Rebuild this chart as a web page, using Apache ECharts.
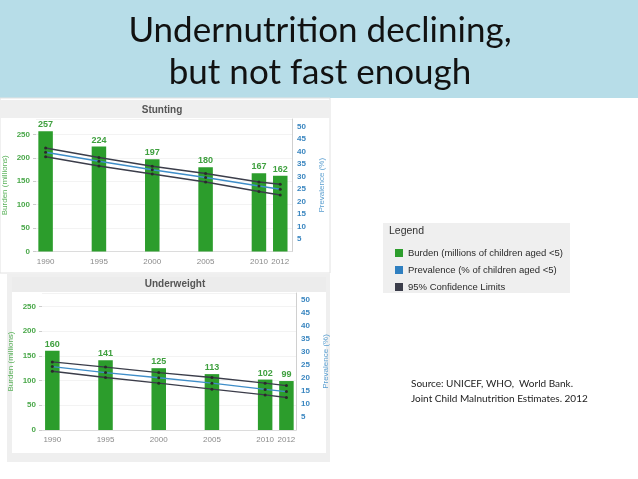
<!DOCTYPE html>
<html>
<head>
<meta charset="utf-8">
<script src="https://cdn.jsdelivr.net/npm/echarts@6/dist/echarts.min.js"></script>
<style>
html, body { margin: 0; padding: 0; background: #fff; }
#main { width: 638px; height: 479px; }
</style>
</head>
<body>
<div id="main"></div>
<script>
// survey years (time axis is linear, so 2010 and 2012 sit close together)
var years = [1990, 1995, 2000, 2005, 2010, 2012];

// stunting: burden in millions, prevalence % with 95% limits
var stuntingBurden = [257, 224, 197, 180, 167, 162];
var stuntingPrev = [39.7, 36.1, 32.7, 29.6, 26.2, 24.9];
var stuntingUpper = [41.4, 37.6, 34.1, 31.2, 27.8, 26.9];
var stuntingLower = [37.9, 34.2, 31.0, 27.8, 24.0, 22.6];

// underweight
var underBurden = [160, 141, 125, 113, 102, 99];
var underPrev = [24.4, 22.1, 20.1, 18.0, 15.6, 14.8];
var underUpper = [26.2, 24.2, 22.1, 20.2, 18.0, 17.1];
var underLower = [22.6, 20.2, 18.0, 15.7, 13.5, 12.5];

var legendNames = ['Burden (millions of children aged <5)', 'Prevalence (% of children aged <5)', '95% Confidence Limits'];
var titleLines = ['Undernutrition declining,', 'but not fast enough'];
var sourceLines = ['Source: UNICEF, WHO,  World Bank.', 'Joint Child Malnutrition Estimates. 2012'];

var GREEN = '#2c9d2c';
var BLUE = '#3f8ec9';
var DARK = '#3b3d4a';

function pairs(vals) {
    var out = [];
    for (var i = 0; i < years.length; i++) {
        out.push([years[i], vals[i]]);
    }
    return out;
}

var chart = echarts.init(document.getElementById('main'));

function xAxisFor(grid, min, max) {
    return {
        type: 'value', gridIndex: grid, min: min, max: max,
        axisLine: { show: true, lineStyle: { color: '#dcdcdc' } },
        axisTick: { show: false },
        splitLine: { show: false },
        axisLabel: {
            customValues: years, color: '#8a8a8a', fontSize: 8, margin: 6,
            formatter: function (v) { return String(v); }
        }
    };
}
function burdenAxis(grid, max) {
    return {
        type: 'value', gridIndex: grid, position: 'left', min: 0, max: max, interval: 50,
        name: 'Burden (millions)', nameLocation: 'middle', nameGap: 27, nameRotate: 90,
        nameTextStyle: { color: '#5bb25b', fontSize: 8 },
        axisLine: { show: false },
        axisTick: { show: true, length: 3, lineStyle: { color: '#cccccc' } },
        splitLine: { show: true, lineStyle: { color: '#f3f3f3' } },
        axisLabel: { color: '#4aa84a', fontSize: 8, margin: 6, showMaxLabel: false, fontWeight: 'bold' }
    };
}
function prevAxis(grid, max) {
    return {
        type: 'value', gridIndex: grid, position: 'right', min: 0, max: max, interval: 5,
        name: 'Prevalence (%)', nameLocation: 'middle', nameGap: 26, nameRotate: 90,
        nameTextStyle: { color: '#5b9fd0', fontSize: 8 },
        axisLine: { show: true, lineStyle: { color: '#d0d0d0' } },
        axisTick: { show: false },
        splitLine: { show: false },
        axisLabel: { color: '#3a86c0', fontSize: 8, margin: 5, showMinLabel: false, showMaxLabel: false, fontWeight: 'bold' }
    };
}
function barSeries(x, y, vals) {
    return {
        name: legendNames[0], type: 'bar', xAxisIndex: x, yAxisIndex: y,
        data: pairs(vals), barWidth: 14.5,
        itemStyle: { color: GREEN },
        label: { show: true, position: 'top', distance: 2, color: '#3fa03f', fontSize: 9, fontWeight: 'bold' }
    };
}
function lineSeries(name, x, y, vals, color) {
    return {
        name: name, type: 'line', xAxisIndex: x, yAxisIndex: y,
        data: pairs(vals), symbol: 'circle', symbolSize: 3, showSymbol: true,
        lineStyle: { color: color, width: 1.3 },
        itemStyle: { color: '#2a2a2a' },
        z: 5
    };
}

var option = {
    animation: false,
    backgroundColor: '#ffffff',
    textStyle: { fontFamily: 'Liberation Sans' },
    grid: [
        { left: 31, right: 346, top: 119, bottom: 227.5 },
        { left: 42, right: 342, top: 293, bottom: 49 }
    ],
    xAxis: [xAxisFor(0, 1989.1, 2013.1), xAxisFor(1, 1989.03, 2012.9)],
    yAxis: [burdenAxis(0, 283), prevAxis(0, 53), burdenAxis(1, 277), prevAxis(1, 52.7)],
    legend: {
        orient: 'vertical', left: 390, top: 243,
        icon: 'rect', itemWidth: 8, itemHeight: 8, itemGap: 7,
        selectedMode: false,
        textStyle: { fontSize: 9.5, color: '#2a2a2a', fontFamily: 'Liberation Sans' },
        data: [
            { name: legendNames[0], itemStyle: { color: GREEN } },
            { name: legendNames[1], itemStyle: { color: '#2f7fc0' } },
            { name: legendNames[2], itemStyle: { color: DARK } }
        ]
    },
    series: [
        barSeries(0, 0, stuntingBurden),
        lineSeries(legendNames[2], 0, 1, stuntingUpper, DARK),
        lineSeries(legendNames[1], 0, 1, stuntingPrev, BLUE),
        lineSeries(legendNames[2], 0, 1, stuntingLower, DARK),
        barSeries(1, 2, underBurden),
        lineSeries(legendNames[2], 1, 3, underUpper, DARK),
        lineSeries(legendNames[1], 1, 3, underPrev, BLUE),
        lineSeries(legendNames[2], 1, 3, underLower, DARK)
    ],
    graphic: [
        // slide title band
        { type: 'rect', z: -10, shape: { x: 0, y: 0, width: 638, height: 98 }, style: { fill: '#b7dde8' } },
        { type: 'text', z: 10, x: 320, y: 31, style: { text: titleLines[0], font: '35px Lato', fill: '#111', textAlign: 'center', textVerticalAlign: 'middle' } },
        { type: 'text', z: 10, x: 320, y: 73, style: { text: titleLines[1], font: '35px Lato', fill: '#111', textAlign: 'center', textVerticalAlign: 'middle' } },
        // stunting panel
        { type: 'rect', z: -10, shape: { x: 0, y: 98, width: 330, height: 175 }, style: { fill: '#fff', stroke: '#e2e2e2', lineWidth: 1 } },
        { type: 'rect', z: -9, shape: { x: 0, y: 100, width: 330, height: 18 }, style: { fill: '#efefef' } },
        { type: 'text', z: 10, x: 162, y: 110, style: { text: 'Stunting', font: 'bold 10px "Liberation Sans"', fill: '#555', textAlign: 'center', textVerticalAlign: 'middle' } },
        // underweight panel
        { type: 'rect', z: -10, shape: { x: 7, y: 274, width: 323, height: 188 }, style: { fill: '#efefef' } },
        { type: 'rect', z: -9, shape: { x: 12, y: 277, width: 314, height: 176 }, style: { fill: '#fff' } },
        { type: 'rect', z: -8, shape: { x: 12, y: 277, width: 314, height: 15 }, style: { fill: '#ececec' } },
        { type: 'text', z: 10, x: 175, y: 284, style: { text: 'Underweight', font: 'bold 10px "Liberation Sans"', fill: '#555', textAlign: 'center', textVerticalAlign: 'middle' } },
        // legend box
        { type: 'rect', z: -10, shape: { x: 383, y: 223, width: 187, height: 70 }, style: { fill: '#efefef' } },
        { type: 'text', z: 10, x: 389, y: 231, style: { text: 'Legend', font: '10.5px "Liberation Sans"', fill: '#333', textVerticalAlign: 'middle' } },
        // source note
        { type: 'text', z: 10, x: 411, y: 384, style: { text: sourceLines[0], font: '10px Lato', fill: '#222', textVerticalAlign: 'middle' } },
        { type: 'text', z: 10, x: 411, y: 399, style: { text: sourceLines[1], font: '10px Lato', fill: '#222', textVerticalAlign: 'middle' } }
    ]
};

chart.setOption(option);
</script>
</body>
</html>
